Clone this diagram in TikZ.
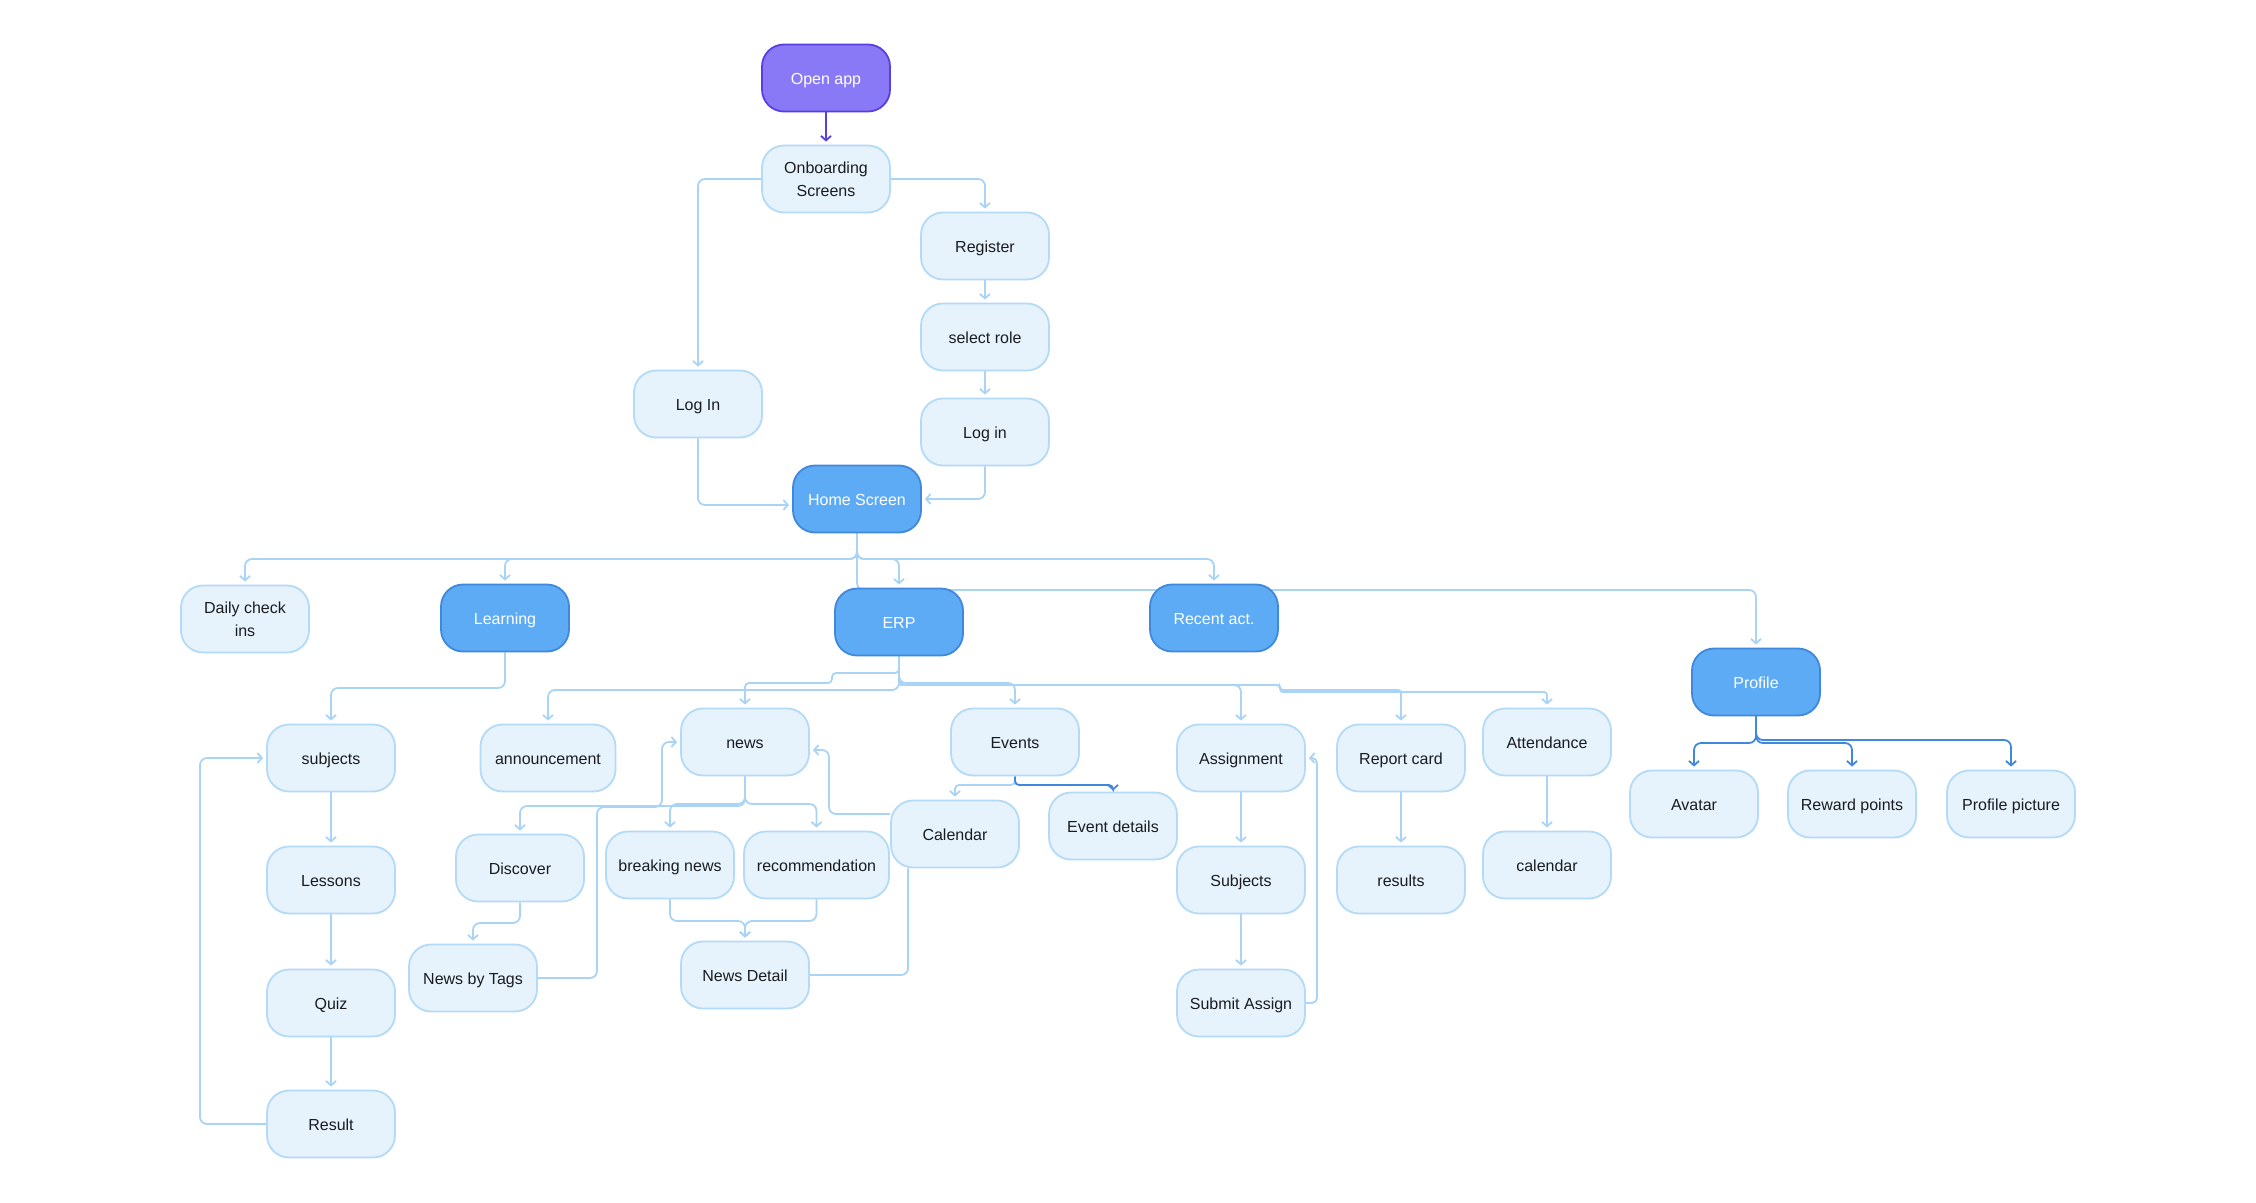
\documentclass[tikz,border=0pt]{standalone}
\usepackage{fontspec}
\setmainfont{Liberation Sans}
\usetikzlibrary{arrows.meta,backgrounds}
\definecolor{lfill}{HTML}{E6F3FD}
\definecolor{lborder}{HTML}{B3DAF7}
\definecolor{cline}{HTML}{A9D4F6}
\definecolor{bfill}{HTML}{5DAAF5}
\definecolor{bborder}{HTML}{3F88DC}
\definecolor{pfill}{HTML}{8A79F6}
\definecolor{pborder}{HTML}{5A3FE0}
\definecolor{txt}{HTML}{1A1C1F}
\begin{document}
\begin{tikzpicture}[x=1pt,y=-1pt,
  basebox/.style={rectangle, rounded corners=22pt, draw=lborder, fill=lfill, line width=1.8pt,
    minimum width=128pt, minimum height=67pt, inner sep=2pt, align=center, text=txt,
    font=\fontsize{16}{23}\selectfont},
  box/.style={basebox, text height=13.5pt, text depth=0pt},
  bbox/.style={box, draw=bborder, fill=bfill, text=white},
  pbox/.style={box, draw=pborder, fill=pfill, text=white},
  conn/.style={draw=cline, line width=1.8pt, rounded corners=7pt,
    -{Straight Barb[length=4.5pt,width=10pt]}, shorten >=3pt},
  plainline/.style={draw=cline, line width=1.8pt, rounded corners=7pt}
]
\useasboundingbox (0,0) rectangle (2256,1202);

% nodes
\node[pbox] (open) at (826,78) {Open app};
\node[basebox] (onb) at (826,179) {Onboarding\\Screens};
\node[box] (reg) at (985,246) {Register};
\node[box] (role) at (985,337) {select role};
\node[box] (login2) at (985,432) {Log in};
\node[box] (login1) at (698,404) {Log In};
\node[bbox] (home) at (857,499) {Home Screen};
\node[basebox] (daily) at (245,619) {Daily check\\ins};
\node[bbox] (learning) at (505,618) {Learning};
\node[bbox] (erp) at (899,622) {ERP};
\node[bbox] (recent) at (1214,618) {Recent act.};
\node[bbox] (profile) at (1756,682) {Profile};
\node[box] (subjects) at (331,758) {subjects};
\node[box, minimum width=135pt] (announce) at (548,758) {announcement};
\node[box] (news) at (745,742) {news};
\node[box] (events) at (1015,742) {Events};
\node[box] (assign) at (1241,758) {Assignment};
\node[box] (report) at (1401,758) {Report card};
\node[box] (attend) at (1547,742) {Attendance};
\node[box] (avatar) at (1694,804) {Avatar};
\node[box] (reward) at (1852,804) {Reward points};
\node[box] (ppic) at (2011,804) {Profile picture};
\node[box] (lessons) at (331,880) {Lessons};
\node[box] (discover) at (520,868) {Discover};
\node[box] (breaking) at (670,865) {breaking news};
\node[box, minimum width=145pt] (recomm) at (816.5,865) {recommendation};
\node[box] (calendar) at (955,834) {Calendar};
\node[box] (evdet) at (1113,826) {Event details};
\node[box] (subj2) at (1241,880) {Subjects};
\node[box] (results) at (1401,880) {results};
\node[box] (cal2) at (1547,865) {calendar};
\node[box] (quiz) at (331,1003) {Quiz};
\node[box] (nbt) at (473,978) {News by Tags};
\node[box] (ndetail) at (745,975) {News Detail};
\node[box] (submit) at (1241,1003) {Submit Assign};
\node[box] (result) at (331,1124) {Result};

\begin{pgfonlayer}{background}
\fill[white] (0,0) rectangle (2256,1202);
% top flow
\draw[conn, draw=pborder] (open.south) -- (onb.north);
\draw[conn] (onb.west) -| (login1.north);
\draw[conn] (onb.east) -| (reg.north);
\draw[conn] (reg.south) -- (role.north);
\draw[conn] (role.south) -- (login2.north);
\draw[conn] (login1.south) |- ([yshift=-6pt]home.west);
\draw[conn] (login2.south) |- (home.east);
% home branches
\draw[conn] (home.south) -- (857,559) -- (245,559) -- (daily.north);
\draw[conn] (home.south) -- (857,559) -- (505,559) -- (learning.north);
\draw[conn] (home.south) -- (857,559) -- (899,559) -- (erp.north);
\draw[conn] (home.south) -- (857,559) -- (1214,559) -- (recent.north);
\draw[conn] (home.south) -- (857,590) -- (1756,590) -- (profile.north);
% learning
\draw[conn] (learning.south) -- (505,688) -- (331,688) -- (subjects.north);
\draw[conn] (subjects.south) -- (lessons.north);
\draw[conn] (lessons.south) -- (quiz.north);
\draw[conn] (quiz.south) -- (result.north);
\draw[conn] (result.west) -- (200,1124) -- (200,758) -- (subjects.west);
% erp branches
\draw[conn, rounded corners=4pt] (erp.south) -- (899,673) -- (832,673) -- (832,683) -- (745,683) -- (news.north);
\draw[conn] (erp.south) -- (899,690) -- (548,690) -- (announce.north);
\draw[conn] (erp.south) -- (899,683) -- (1015,683) -- (events.north);
\draw[conn] (erp.south) -- (899,685) -- (1241,685) -- (assign.north);
\draw[conn, rounded corners=3pt] (erp.south) -- (899,685) -- (1280,685) -- (1280,690) -- (1401,690) -- (report.north);
\draw[conn, rounded corners=3pt] (erp.south) -- (899,685) -- (1280,685) -- (1280,692) -- (1547,692) -- (attend.north);
% news
\draw[conn] (news.south) -- (745,806) -- (520,806) -- (discover.north);
\draw[conn] (news.south) -- (745,804) -- (670,804) -- (breaking.north);
\draw[conn] (news.south) -- (745,804) -- (816.5,804) -- (recomm.north);
\draw[conn] (discover.south) -- (520,923) -- (473,923) -- (nbt.north);
\draw[conn] (nbt.east) -- (597,978) -- (597,807) -- (662,807) -- (662,742) -- (news.west);
\draw[conn] (breaking.south) -- (670,921) -- (745,921) -- (ndetail.north);
\draw[conn] (recomm.south) -- (816.5,921) -- (745,921) -- (ndetail.north);
\draw[plainline] (ndetail.east) -| ([xshift=18pt]calendar.south west);
\draw[conn] ([yshift=20pt]calendar.west) -| (829,750) -- ([yshift=-8pt]news.east);
% events
\draw[conn, rounded corners=4pt] (events.south) -- (1015,785) -- (955,785) -- (calendar.north);
\draw[conn, rounded corners=4pt, draw=bborder, shorten >=1pt] (events.south) -- (1015,785) -- (1113,785) -- (evdet.north);
% assignment
\draw[conn] (assign.south) -- (subj2.north);
\draw[conn] (subj2.south) -- (submit.north);
\draw[conn, rounded corners=5pt] (submit.east) -- (1317,1003) -- (1317,758) -- (assign.east);
\draw[conn] (report.south) -- (results.north);
\draw[conn] (attend.south) -- (cal2.north);
% profile
\draw[conn, draw=bborder] (profile.south) -- (1756,743) -- (1694,743) -- (avatar.north);
\draw[conn, draw=bborder] (profile.south) -- (1756,743) -- (1852,743) -- (reward.north);
\draw[conn, draw=bborder] (profile.south) -- (1756,740) -- (2011,740) -- (ppic.north);
\end{pgfonlayer}
\end{tikzpicture}
\end{document}
